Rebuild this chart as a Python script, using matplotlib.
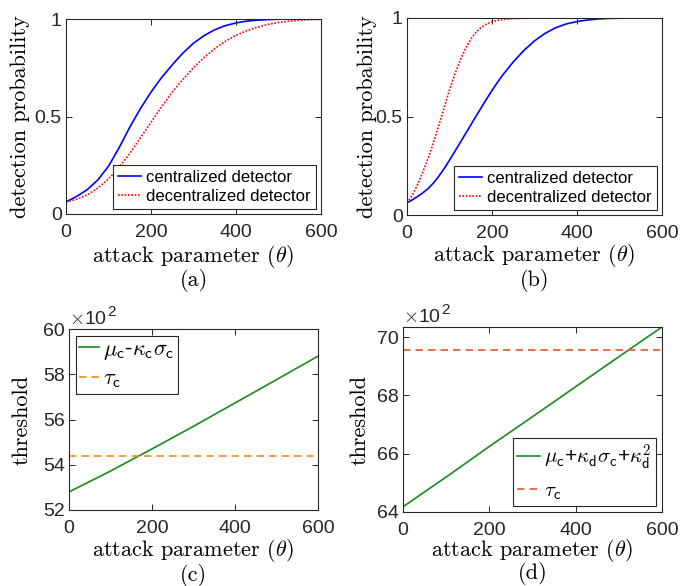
import matplotlib
matplotlib.use("Agg")
import matplotlib.pyplot as plt
from matplotlib.ticker import FuncFormatter

plt.rcParams['font.family'] = ['Liberation Sans', 'DejaVu Sans']
plt.rcParams['mathtext.fontset'] = 'cm'

# detection probability curves
theta_a = [0, 25, 50, 75, 100, 125, 150, 175, 200, 225, 250, 275, 300, 325, 350, 375,
           400, 425, 450, 475, 500, 525, 550, 575, 600]
pd_cen_a = [0.062, 0.09, 0.125, 0.175, 0.245, 0.34, 0.445, 0.54, 0.625, 0.70, 0.765, 0.825,
            0.876, 0.915, 0.945, 0.966, 0.98, 0.989, 0.994, 0.997, 0.999, 1.0, 1.0, 1.0, 1.0]
pd_dec_a = [0.062, 0.075, 0.098, 0.133, 0.18, 0.24, 0.31, 0.39, 0.47, 0.55, 0.625, 0.69,
            0.75, 0.803, 0.848, 0.886, 0.916, 0.94, 0.958, 0.972, 0.982, 0.989, 0.994, 0.997, 0.998]

theta_b = [0, 12.5, 25, 37.5, 50, 62.5, 75, 87.5, 100, 112.5, 125, 137.5, 150, 162.5, 175,
           187.5, 200, 212.5, 225, 250, 275, 300, 325, 350, 375, 400, 425, 450, 475, 500, 550, 600]
pd_cen_b = [0.062, 0.077, 0.094, 0.113, 0.135, 0.163, 0.197, 0.236, 0.278, 0.322, 0.367, 0.412,
            0.457, 0.502, 0.546, 0.59, 0.632, 0.672, 0.71, 0.777, 0.835, 0.884, 0.922, 0.951,
            0.97, 0.982, 0.99, 0.995, 0.998, 0.999, 1.0, 1.0]
pd_dec_b = [0.062, 0.10, 0.155, 0.22, 0.29, 0.37, 0.455, 0.545, 0.635, 0.715, 0.785, 0.845,
            0.892, 0.928, 0.953, 0.97, 0.981, 0.988, 0.993, 0.997, 0.999, 1.0, 1.0, 1.0,
            1.0, 1.0, 1.0, 1.0, 1.0, 1.0, 1.0, 1.0]

# thresholds (axis shows them in units of 10^2)
theta_cd = [0, 100, 200, 300, 400, 500, 600]
thr_c = [5280, 5372, 5470, 5570, 5673, 5776, 5880]
tau_c = 5438
thr_d = [6418, 6520, 6625, 6727, 6830, 6933, 7035]
tau_d = 6957

W, H = 694, 586
fig = plt.figure(figsize=(W / 100, H / 100), dpi=100)


def box(l, r, t, b):
    return [l / W, 1 - b / H, (r - l) / W, (b - t) / H]


ax_a = fig.add_axes(box(66, 321, 19, 214))
ax_b = fig.add_axes(box(407, 662, 18, 215))
ax_c = fig.add_axes(box(69, 318, 329, 510))
ax_d = fig.add_axes(box(403, 662, 327, 512))

serif = {'family': 'cmr10', 'size': 16}
xlab = r'attack parameter ($\theta$)'


def style(ax, xl_y, yl_x):
    ax.tick_params(direction='in', top=True, right=True, length=4, width=0.7,
                   labelsize=14, colors='#262626')
    ax.tick_params(axis='x', pad=7)
    ax.tick_params(axis='y', pad=3)
    for s in ax.spines.values():
        s.set_color('#262626')
        s.set_linewidth(0.8)
    ax.set_xlim(0, 600)
    ax.set_xticks([0, 200, 400, 600])
    ax.set_xlabel(xlab, fontdict=serif, va='center')
    ax.xaxis.set_label_coords(0.5, xl_y)
    ax.yaxis.set_label_coords(yl_x, 0.5)


def legend(ax, loc, size, hl, spacing, pad=0.3, tpad=0.3):
    leg = ax.legend(loc=loc, fontsize=size, fancybox=False, framealpha=1,
                    edgecolor='#262626', handlelength=hl, handletextpad=tpad,
                    borderpad=pad, labelspacing=spacing, borderaxespad=0.3)
    leg.get_frame().set_linewidth(0.8)


panels = [(ax_a, theta_a, pd_cen_a, pd_dec_a, '(a)', -0.22, -0.18, -0.342),
          (ax_b, theta_b, pd_cen_b, pd_dec_b, '(b)', -0.208, -0.157, -0.335)]
for ax, th, cen, dec, tag, xl_y, yl_x, tag_y in panels:
    ax.plot(th, cen, color='#0000FF', lw=1.2, label='centralized detector')
    ax.plot(th, dec, color='#FF0000', lw=1.2, ls=(0, (1, 1)), label='decentralized detector')
    ax.set_ylabel('detection probability', fontdict=serif, va='center')
    style(ax, xl_y, yl_x)
    ax.set_ylim(0, 1)
    ax.set_yticks([0, 0.5, 1])
    ax.set_yticklabels(['0', '0.5', '1'])
    legend(ax, 'lower right', 12, 1.4, 0.25)
    ax.text(0.5, tag_y, tag, transform=ax.transAxes, ha='center', va='center', fontdict=serif)

ax_c.plot(theta_cd, thr_c, color='#1A8A1A', lw=1.2,
          label=r'$\mu_{\mathsf{c}}$-$\kappa_{\mathsf{c}}\sigma_{\mathsf{c}}$')
ax_c.axhline(tau_c, color='#EE8E1C', lw=1.2, ls=(0, (4.5, 3)), label=r'$\tau_{\mathsf{c}}$')
ax_c.set_ylabel('threshold', fontdict=serif, va='center')
style(ax_c, -0.225, -0.189)
ax_c.set_ylim(5200, 6000)
ax_c.set_yticks([5200, 5400, 5600, 5800, 6000])
legend(ax_c, 'upper left', 16, 0.9, 0.3, pad=0.15, tpad=0.2)
ax_c.text(0.5, -0.36, '(c)', transform=ax_c.transAxes, ha='center', va='center', fontdict=serif)

ax_d.plot(theta_cd, thr_d, color='#1A8A1A', lw=1.2,
          label=r'$\mu_{\mathsf{c}}$+$\kappa_{\mathsf{d}}\sigma_{\mathsf{c}}$+$\kappa_{\mathsf{d}}^{\mathsf{2}}$')
ax_d.axhline(tau_d, color='#E0592A', lw=1.2, ls=(0, (4.5, 3)), label=r'$\tau_{\mathsf{c}}$')
ax_d.set_ylabel('threshold', fontdict=serif, va='center')
style(ax_d, -0.21, -0.166)
ax_d.set_ylim(6400, 7035)
ax_d.set_yticks([6400, 6600, 6800, 7000])
legend(ax_d, 'lower right', 15, 1.1, 0.45, pad=0.2, tpad=0.2)
ax_d.text(0.5, -0.335, '(d)', transform=ax_d.transAxes, ha='center', va='center', fontdict=serif)

for ax in (ax_c, ax_d):
    ax.yaxis.set_major_formatter(FuncFormatter(lambda v, p: f'{v / 100:.0f}'))
    t = ax.text(0.0, 1.005, r'$\times$10', transform=ax.transAxes, ha='left', va='bottom',
                fontsize=14, color='#262626')
    ax.annotate('2', xy=(1.0, 0.55), xycoords=t, ha='left', va='bottom',
                fontsize=11, color='#262626')

fig.savefig('out.png', dpi=100)
